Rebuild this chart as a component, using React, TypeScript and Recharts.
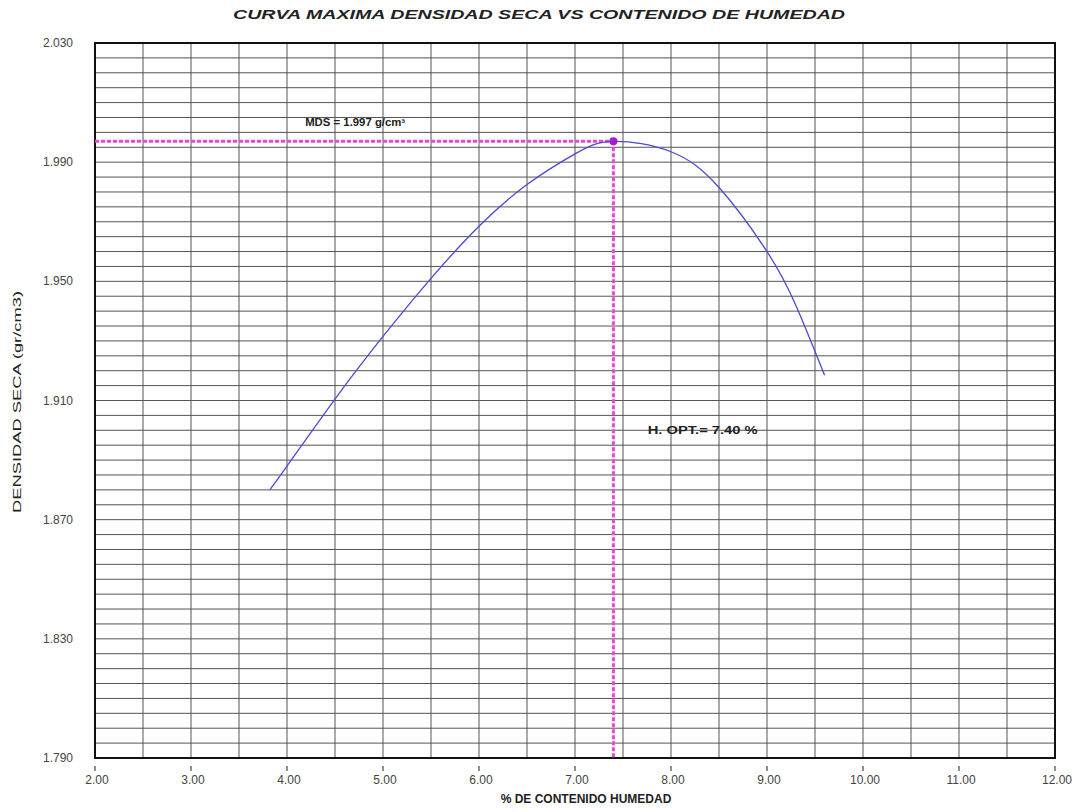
import React from "react";
import {
  LineChart,
  Line,
  XAxis,
  YAxis,
  CartesianGrid,
  ReferenceLine,
  ReferenceDot,
  ReferenceArea,
} from "recharts";

// moisture content (%) and dry density (g/cm3)
const humedad = [3.82, 4.0, 4.5, 5.0, 5.5, 6.0, 6.5, 7.0, 7.4, 8.0, 8.5, 9.0, 9.3, 9.6];
const densidad = [1.88, 1.888, 1.9105, 1.9315, 1.951, 1.9685, 1.9825, 1.9928, 1.997, 1.9935, 1.9815, 1.96, 1.942, 1.9185];

const xLabels = [2, 3, 4, 5, 6, 7, 8, 9, 10, 11, 12];
const yLabels = [1.79, 1.83, 1.87, 1.91, 1.95, 1.99, 2.03];

const MDS = 1.997;
const H_OPT = 7.4;

const X_MIN = 2;
const X_MAX = 12;
const Y_MIN = 1.79;
const Y_MAX = 2.03;

// grid: vertical every 0.5 %, horizontal every 0.005 g/cm3
const xGrid: number[] = [];
for (let i = 0; i <= 20; i++) xGrid.push(+(X_MIN + i * 0.5).toFixed(2));
const yGrid: number[] = [];
for (let i = 0; i <= 48; i++) yGrid.push(+(Y_MIN + i * 0.005).toFixed(3));

const data = humedad.map((h, i) => ({ h, d: densidad[i] }));

const FONT = "'Liberation Sans', Arial, sans-serif";

const XTick = (props: any) => {
  const { x, y, payload } = props;
  const v = payload.value as number;
  if (!xLabels.includes(v)) return null;
  return (
    <g>
      <line x1={x} y1={y} x2={x} y2={y + 5} stroke="#222" strokeWidth={1} />
      <text x={x + 2} y={y + 18} textAnchor="middle" fontSize={12} fill="#444" fontFamily={FONT}>
        {v.toFixed(2)}
      </text>
    </g>
  );
};

const YTick = (props: any) => {
  const { x, y, payload } = props;
  const v = payload.value as number;
  if (!yLabels.some((l) => Math.abs(l - v) < 1e-6)) return null;
  return (
    <text x={x - 14} y={y + 4} textAnchor="end" fontSize={12} fill="#444" fontFamily={FONT}>
      {v.toFixed(3)}
    </text>
  );
};

const stretchedLabel = (text: string, width: number) => (props: any) => {
  const { viewBox } = props;
  const cx = viewBox.x + (viewBox.width || 0) / 2;
  const cy = viewBox.y + (viewBox.height || 0) / 2;
  return (
    <text
      x={cx}
      y={cy + 4}
      textAnchor="middle"
      fontSize={10}
      fontWeight="bold"
      fill="#222"
      fontFamily={FONT}
      textLength={width}
      lengthAdjust="spacingAndGlyphs"
    >
      {text}
    </text>
  );
};

export default function App() {
  return (
    <div style={{ position: "absolute", left: 0, top: 0, width: 1083, height: 812, background: "#fff" }}>
      <svg width={1083} height={812} style={{ position: "absolute", left: 0, top: 0 }}>
        <text
          x={539}
          y={19}
          textAnchor="middle"
          fontSize={12}
          fontWeight="bold"
          fontStyle="italic"
          fill="#222"
          fontFamily={FONT}
          textLength={612}
          lengthAdjust="spacingAndGlyphs"
        >
          CURVA MAXIMA DENSIDAD SECA VS CONTENIDO DE HUMEDAD
        </text>
        <text x={586} y={803} textAnchor="middle" fontSize={12} fontWeight="bold" fill="#222" fontFamily={FONT}>
          % DE CONTENIDO   HUMEDAD
        </text>
        <text
          x={0}
          y={0}
          transform="translate(21,402) rotate(-90)"
          textAnchor="middle"
          fontSize={10}
          fill="#222"
          fontFamily={FONT}
          textLength={222}
          lengthAdjust="spacingAndGlyphs"
        >
          DENSIDAD  SECA (gr/cm3)
        </text>
      </svg>
      <div style={{ position: "absolute", left: 0, top: 0 }}>
        <LineChart width={1083} height={812} data={data} margin={{ top: 43, right: 28, bottom: 0, left: 0 }}>
          <CartesianGrid stroke="#555" strokeWidth={1} />
          <XAxis
            dataKey="h"
            type="number"
            domain={[X_MIN, X_MAX]}
            ticks={xGrid}
            interval={0}
            height={54}
            axisLine={false}
            tickLine={false}
            tick={<XTick />}
            allowDataOverflow
          />
          <YAxis
            type="number"
            domain={[Y_MIN, Y_MAX]}
            ticks={yGrid}
            interval={0}
            width={95}
            axisLine={false}
            tickLine={false}
            tick={<YTick />}
            allowDataOverflow
          />
          <ReferenceArea
            x1={X_MIN}
            x2={X_MAX}
            y1={Y_MIN}
            y2={Y_MAX}
            fill="none"
            stroke="#111"
            strokeWidth={2}
            fillOpacity={0}
          />
          <ReferenceLine
            segment={[
              { x: X_MIN, y: MDS },
              { x: H_OPT, y: MDS },
            ]}
            stroke="#ee44dd"
            strokeWidth={3}
            strokeDasharray="4 2"
          />
          <ReferenceLine
            segment={[
              { x: H_OPT, y: MDS },
              { x: H_OPT, y: Y_MIN },
            ]}
            stroke="#ee44dd"
            strokeWidth={3}
            strokeDasharray="4 2"
          />
          <Line
            dataKey="d"
            type="natural"
            stroke="#4b4bd0"
            strokeWidth={1.3}
            dot={false}
            activeDot={false}
            isAnimationActive={false}
          />
          <ReferenceDot x={H_OPT} y={MDS} r={4} fill="#a020d0" stroke="none" />
          <ReferenceDot
            x={4.71}
            y={2.0035}
            r={0}
            label={stretchedLabel("MDS = 1.997 g/cm³", 100)}
          />
          <ReferenceDot
            x={8.33}
            y={1.9}
            r={0}
            label={stretchedLabel("H. OPT.= 7.40 %", 110)}
          />
        </LineChart>
      </div>
    </div>
  );
}
